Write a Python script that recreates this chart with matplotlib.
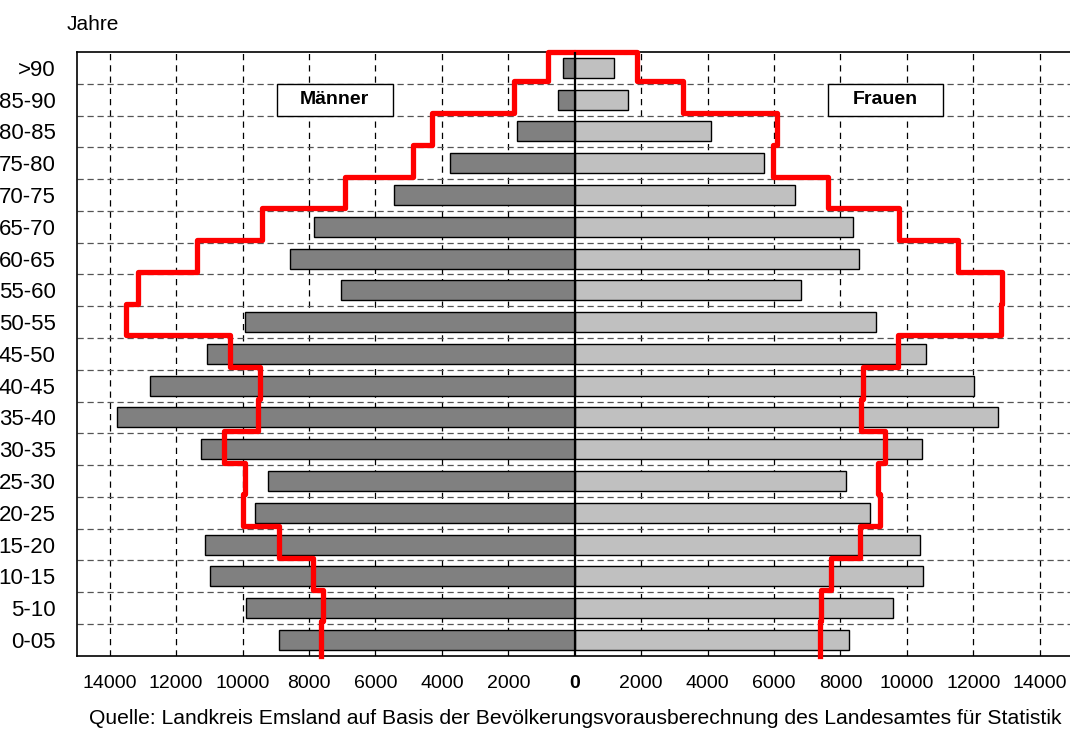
import matplotlib.pyplot as plt
import matplotlib
from matplotlib.patches import Rectangle
import numpy as np

matplotlib.rcParams['font.family'] = ['Liberation Sans', 'DejaVu Sans']

# Altersgruppen (unten -> oben)
age_groups = ['0-05', '5-10', '10-15', '15-20', '20-25', '25-30', '30-35', '35-40',
              '40-45', '45-50', '50-55', '55-60', '60-65', '65-70', '70-75', '75-80',
              '80-85', '85-90', '>90']

# Balken (heute)
men = [8910, 9900, 10970, 11140, 9640, 9230, 11240, 13790,
       12790, 11060, 9940, 7030, 8580, 7850, 5430, 3750,
       1730, 510, 350]
women = [8270, 9590, 10490, 10390, 8900, 8170, 10440, 12750,
         12020, 10560, 9080, 6820, 8570, 8370, 6620, 5700,
         4090, 1610, 1170]

# rote Linie (Vorausberechnung)
men_proj = [7640, 7580, 7870, 8900, 10000, 9930, 10570, 9530,
            9470, 10390, 13510, 13150, 11360, 9420, 6930, 4870,
            4290, 1820, 820]
women_proj = [7390, 7410, 7710, 8590, 9190, 9130, 9340, 8610,
              8680, 9740, 12830, 12870, 11550, 9770, 7620, 5960,
              6100, 3250, 1880]

x_ticks = np.arange(-14000, 14001, 2000)


def step_path(values, sign, n, shift=0.08):
    """Treppenlinie von oben nach unten aufbauen"""
    xs = [sign * 80, sign * values[n - 1]]
    ys = [n - 0.5, n - 0.5]
    for i in range(n - 1, 0, -1):
        yb = i - 0.5 + shift
        xs += [sign * values[i], sign * values[i - 1]]
        ys += [yb, yb]
    xs.append(sign * values[0])
    ys.append(-0.5)
    return xs, ys


fig = plt.figure(figsize=(10.7, 7.29), dpi=100)
ax = fig.add_axes([0.0715, 0.1005, 0.9313, 0.8282])

n = len(age_groups)
y = np.arange(n)

# Gitter
for xv in x_ticks:
    if xv != 0:
        ax.axvline(xv, color='black', linestyle=(0, (5, 4)), linewidth=0.9, zorder=0)
for i in range(n - 1):
    ax.axhline(i + 0.5, color='#555555', linestyle=(0, (5, 3)), linewidth=0.9, zorder=0)

# Balken
ax.barh(y, [-v for v in men], height=0.63, color='#808080', edgecolor='black', linewidth=1.0, zorder=2)
ax.barh(y, women, height=0.63, color='#C0C0C0', edgecolor='black', linewidth=1.0, zorder=2)

# rote Linien
mx, my = step_path(men_proj, -1, n)
wx, wy = step_path(women_proj, 1, n)
ax.plot(mx, my, color='#FF0000', linewidth=3.8, solid_joinstyle='round', zorder=4, clip_on=False)
ax.plot(wx, wy, color='#FF0000', linewidth=3.8, solid_joinstyle='round', zorder=4, clip_on=False)

# Nulllinie
ax.axvline(0, color='black', linewidth=1.6, zorder=5)

# Beschriftungskästen
ax.add_patch(Rectangle((-8970, 16.5), 3490, 1.0, facecolor='white', edgecolor='black', linewidth=1.0, zorder=3))
ax.text(-7225, 17.0, 'Männer', ha='center', va='center', fontsize=14, fontweight='bold', zorder=6)
ax.add_patch(Rectangle((7610, 16.5), 3490, 1.0, facecolor='white', edgecolor='black', linewidth=1.0, zorder=3))
ax.text(9355, 17.0, 'Frauen', ha='center', va='center', fontsize=14, fontweight='bold', zorder=6)

ax.set_xlim(-15000, 15000)
ax.set_ylim(-0.5, n - 0.5)
ax.set_xticks(x_ticks)
ax.set_xticklabels([str(abs(v)) for v in x_ticks], fontsize=14)
for lbl in ax.get_xticklabels():
    if lbl.get_text() == '0':
        lbl.set_fontweight('bold')
ax.set_yticks(y)
ax.set_yticklabels(age_groups, fontsize=16)
ax.tick_params(axis='x', length=0, pad=14)
ax.tick_params(axis='y', length=0, pad=15)

for spine in ax.spines.values():
    spine.set_linewidth(1.2)

fig.text(66.7 / 1070, 1 - 24 / 729, 'Jahre', ha='left', va='center', fontsize=15)
fig.text(575 / 1070, 1 - 719 / 729,
         'Quelle: Landkreis Emsland auf Basis der Bevölkerungsvorausberechnung des Landesamtes für Statistik',
         ha='center', va='center', fontsize=15.2)

plt.savefig('out.png', dpi=100, facecolor='white')
plt.close()
